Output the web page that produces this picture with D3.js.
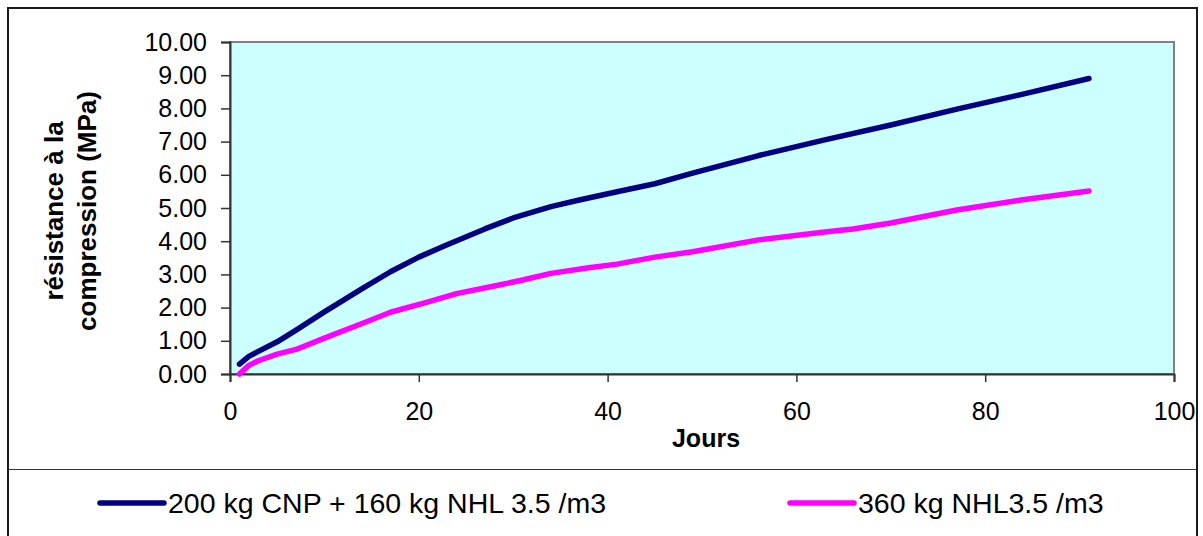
<!DOCTYPE html>
<html>
<head>
<meta charset="utf-8">
<script src="https://cdn.jsdelivr.net/npm/d3@7"></script>
<style>
	html, body { margin:0; padding:0; background:#fff; }
	svg { display:block; font-family:'Liberation Sans', Arial, sans-serif; }
</style>
</head>
<body>
<div id="chart"></div>
<script>
//Data
const seriesNames = ['200 kg CNP + 160 kg NHL 3.5 /m3', '360 kg NHL3.5 /m3'];
const seriesColors = ['#000080', '#ff00ff'];

const cnpDays = [1, 2, 3, 5, 7, 10, 14, 17, 20, 23, 27, 30, 34, 37, 41, 45, 49, 56, 63, 70, 77, 84, 91];
const cnpValues = [0.30, 0.53, 0.68, 0.97, 1.32, 1.87, 2.57, 3.08, 3.52, 3.89, 4.37, 4.70, 5.04, 5.24, 5.49, 5.73, 6.05, 6.58, 7.05, 7.50, 7.98, 8.43, 8.90];

const nhlDays = [1, 2, 3, 5, 7, 10, 14, 17, 21, 24, 28, 31, 34, 38, 41, 45, 49, 56, 63, 66, 70, 77, 84, 91];
const nhlValues = [0.00, 0.26, 0.40, 0.60, 0.74, 1.08, 1.52, 1.86, 2.17, 2.42, 2.65, 2.83, 3.03, 3.20, 3.31, 3.52, 3.68, 4.04, 4.28, 4.37, 4.55, 4.94, 5.25, 5.51];

const xTicks = [0, 20, 40, 60, 80, 100];
const yTicks = [0, 1, 2, 3, 4, 5, 6, 7, 8, 9, 10];

const yTitle = ['résistance à la', 'compression (MPa)'];
const xTitle = 'Jours';

const width = 1203;
const height = 536;
const plotBox = {l:230, t:42, r:1174, b:374};

const svg = d3.select('#chart').append('svg')
	.attr('width', width)
	.attr('height', height);

//outer frame + legend separator
svg.append('rect')
	.attr('x', 8).attr('y', 8)
	.attr('width', 1189).attr('height', 540)
	.style('fill', '#fff')
	.style('stroke', '#1a1a1a')
	.style('stroke-width', 2);
svg.append('line')
	.attr('x1', 8).attr('x2', 1197)
	.attr('y1', 469.5).attr('y2', 469.5)
	.style('stroke', '#333')
	.style('stroke-width', 1.2);

//scales
const scaleX = d3.scaleLinear().domain([0, 100]).range([plotBox.l, plotBox.r]);
const scaleY = d3.scaleLinear().domain([0, 10]).range([plotBox.b, plotBox.t]);

//plot area
svg.append('rect')
	.attr('x', plotBox.l).attr('y', plotBox.t)
	.attr('width', plotBox.r - plotBox.l)
	.attr('height', plotBox.b - plotBox.t)
	.style('fill', '#ccffff')
	.style('stroke', '#808080')
	.style('stroke-width', 2);

//axes
const axisY = d3.axisLeft(scaleY)
	.tickValues(yTicks)
	.tickSize(9)
	.tickPadding(14)
	.tickFormat(d3.format('.2f'));
const axisX = d3.axisBottom(scaleX)
	.tickValues(xTicks)
	.tickSize(8)
	.tickPadding(20);

const gY = svg.append('g')
	.attr('class', 'axis axis-y')
	.attr('transform', `translate(${plotBox.l},0)`)
	.call(axisY);
const gX = svg.append('g')
	.attr('class', 'axis axis-x')
	.attr('transform', `translate(0,${plotBox.b})`)
	.call(axisX);

[gX, gY].forEach(g => {
	g.select('.domain').style('stroke', '#333').style('stroke-width', 2);
	g.selectAll('.tick line').style('stroke', '#333').style('stroke-width', 1.5);
	g.selectAll('.tick text')
		.style('font-family', "'Liberation Sans', Arial, sans-serif")
		.style('font-size', '25px')
		.style('fill', '#000');
});

//lines
const line = d3.line()
	.x(d => scaleX(d[0]))
	.y(d => scaleY(d[1]));

const series = [
	d3.zip(cnpDays, cnpValues),
	d3.zip(nhlDays, nhlValues)
];

svg.selectAll('.series')
	.data(series)
	.enter()
	.append('path')
	.attr('class', 'series')
	.attr('d', line)
	.style('fill', 'none')
	.style('stroke', (d, i) => seriesColors[i])
	.style('stroke-width', 5.5)
	.style('stroke-linecap', 'round')
	.style('stroke-linejoin', 'round');

//axis titles
const yt = svg.append('text')
	.attr('transform', 'translate(0,211) rotate(-90)')
	.attr('text-anchor', 'middle')
	.style('font-weight', 'bold')
	.style('font-size', '26px');
yt.selectAll('tspan')
	.data(yTitle)
	.enter()
	.append('tspan')
	.attr('x', 0)
	.attr('y', (d, i) => 63 + i * 33)
	.text(d => d);

svg.append('text')
	.attr('x', (plotBox.l + plotBox.r) / 2 + 4)
	.attr('y', 447)
	.attr('text-anchor', 'middle')
	.style('font-weight', 'bold')
	.style('font-size', '25px')
	.text(xTitle);

//legend
const legendX = [100, 790];
const legend = svg.selectAll('.legend-item')
	.data(seriesNames)
	.enter()
	.append('g')
	.attr('class', 'legend-item')
	.attr('transform', (d, i) => `translate(${legendX[i]},503)`);
legend.append('line')
	.attr('x1', 0).attr('x2', 64)
	.style('stroke', (d, i) => seriesColors[i])
	.style('stroke-width', 5.5)
	.style('stroke-linecap', 'round');
legend.append('text')
	.attr('x', 68)
	.attr('dy', '0.36em')
	.style('font-size', '28.5px')
	.text(d => d);
</script>
</body>
</html>
